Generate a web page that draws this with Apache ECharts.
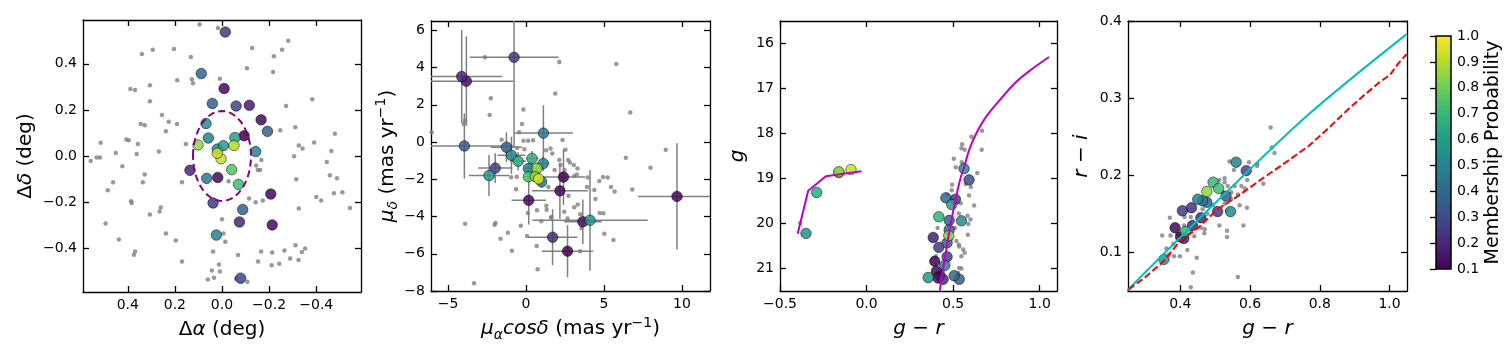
<!DOCTYPE html>
<html>
<head>
<meta charset="utf-8">
<script src="https://cdn.jsdelivr.net/npm/echarts@6/dist/echarts.min.js"></script>
<style>
  html, body { margin: 0; padding: 0; background: #fff; }
  #main { width: 1512px; height: 360px; }
</style>
</head>
<body>
<div id="main"></div>
<script>
// ---- 面板1: 天区位置 (Δα, Δδ) ----
var skyField = [
  [0.095,0.570],[0.017,0.555],[0.340,0.442],[0.294,0.461],[0.204,0.464],[0.132,0.429],[-0.128,0.468],[-0.255,0.461],
  [-0.281,0.500],[-0.220,0.433],[-0.106,0.381],[-0.217,0.364],[0.190,0.329],[0.128,0.333],[0.123,0.316],[0.306,0.307],
  [0.009,0.335],[0.389,0.291],[0.369,0.286],[0.306,0.238],[-0.383,0.246],[-0.272,0.217],[0.255,0.178],[0.226,0.149],
  [0.191,0.139],[0.345,0.139],[0.328,0.133],[0.238,0.107],[-0.247,0.112],[-0.311,0.125],[-0.479,0.096],[0.406,0.072],
  [0.396,0.068],[0.357,0.052],[0.515,0.057],[0.153,0.052],[-0.104,0.096],[-0.391,0.059],[-0.326,0.046],[-0.342,0.033],
  [-0.464,0.022],[0.268,0.020],[0.451,0.013],[0.362,0.009],[-0.306,-0.001],[0.557,-0.022],[0.532,-0.006],[0.518,-0.006],
  [-0.445,-0.026],[-0.167,-0.017],[-0.145,-0.041],[-0.162,-0.061],[-0.152,-0.061],[0.423,-0.045],[-0.458,-0.083],
  [-0.488,-0.097],[0.328,-0.080],[-0.315,-0.101],[0.462,-0.114],[0.336,-0.114],[0.170,-0.114],[-0.028,-0.109],
  [0.485,-0.149],[-0.475,-0.162],[-0.511,-0.157],[-0.400,-0.178],[-0.421,-0.193],[-0.115,-0.184],[-0.143,-0.201],
  [-0.173,-0.193],[0.386,-0.196],[0.383,-0.204],[0.260,-0.223],[0.265,-0.241],[-0.326,-0.228],[-0.543,-0.226],
  [0.306,-0.254],[0.000,-0.274],[0.494,-0.293],[-0.006,-0.336],[0.238,-0.336],[0.196,-0.367],[0.438,-0.362],
  [-0.014,-0.372],[0.369,-0.414],[0.374,-0.428],[0.038,-0.414],[-0.068,-0.430],[-0.166,-0.414],[-0.213,-0.419],
  [-0.265,-0.410],[-0.312,-0.387],[-0.353,-0.401],[-0.339,-0.416],[-0.289,-0.445],[-0.325,-0.451],[0.170,-0.458],
  [-0.153,-0.458],[-0.211,-0.474],[-0.243,-0.467],[0.013,-0.471],[0.043,-0.497],[0.009,-0.501],[0.060,-0.536],
  [0.034,-0.528],[-0.060,-0.532],[-0.108,-0.546]
]
// [Δα, Δδ, 成员概率]
var skyMembers = [
  [-0.014,0.538,0.25],[0.088,0.358,0.40],[-0.009,0.293,0.12],[0.041,0.228,0.38],[-0.060,0.217,0.28],
  [-0.116,0.220,0.17],[-0.166,0.157,0.13],[0.068,0.141,0.55],[-0.193,0.107,0.38],[-0.094,0.088,0.10],
  [0.058,0.078,0.50],[-0.055,0.080,0.62],[0.102,0.048,0.85],[-0.006,0.045,0.60],[-0.051,0.046,0.90],
  [0.020,0.030,0.55],[-0.143,0.019,0.50],[0.020,0.012,0.93],[0.004,-0.012,0.92],[0.136,-0.062,0.20],
  [-0.041,-0.059,0.75],[0.065,-0.097,0.45],[0.018,-0.093,0.12],[-0.070,-0.123,0.72],[-0.207,-0.165,0.12],
  [0.038,-0.204,0.25],[-0.088,-0.232,0.38],[-0.074,-0.286,0.20],[-0.213,-0.299,0.12],[0.024,-0.343,0.50],
  [-0.079,-0.530,0.28]
]
var ellipseCenter = [0.0, 0.0]
var ellipseRadii = [0.123, 0.195]

// ---- 面板2: 自行 ----
var pmField = [
  [-2.64,4.55],[2.13,4.30],[5.79,4.19],[-2.26,2.35],[1.87,2.60],[-2.34,1.45],[-0.17,1.75],[6.68,1.59],[-0.26,0.97],
  [-4.00,0.97],[-3.91,1.15],[-0.45,0.53],[-6.06,0.53],[0.13,0.07],[-0.17,0.07],[0.45,0.09],[2.34,0.11],[-1.57,0.12],
  [-0.57,-0.32],[-0.11,-0.39],[1.28,-0.44],[1.57,-0.35],[2.53,-0.41],[1.68,-0.62],[2.13,-0.97],[2.70,-0.97],
  [2.21,-1.24],[2.81,-1.10],[3.06,-1.24],[3.30,-1.42],[8.96,-0.42],[6.40,-0.85],[7.98,-1.38],[1.83,-1.50],
  [2.47,-1.50],[3.09,-1.82],[3.26,-1.75],[3.96,-1.91],[4.94,-1.88],[5.23,-1.91],[-0.60,-1.86],[-0.96,-1.89],
  [-0.64,-2.53],[1.43,-2.41],[3.91,-2.42],[4.70,-2.09],[4.38,-2.57],[5.45,-2.42],[5.68,-2.65],[6.81,-2.55],
  [2.72,-2.88],[4.45,-3.06],[3.32,-3.36],[3.09,-3.50],[1.30,-3.42],[1.32,-3.63],[0.70,-3.66],[1.60,-4.07],
  [2.45,-3.75],[3.47,-3.88],[0.11,-3.81],[4.72,-3.81],[4.96,-3.82],[-3.91,-4.39],[-2.02,-4.44],[-1.96,-4.35],
  [-1.17,-4.87],[-0.34,-4.50],[-1.64,-5.20],[-0.91,-5.84],[0.68,-5.58],[0.06,-5.04],[5.02,-4.92],[5.60,-5.26],
  [3.47,-5.86],[0.74,-6.83],[-3.34,-7.58],[3.55,-4.62],[1.62,-4.02],[0.98,-4.25],[2.66,-4.11]
]
// [μα cosδ, μδ, xerr, yerr, 成员概率]
var pmMembers = [
  [-0.77,4.55,2.85,4.8,0.25],[-4.13,3.52,2.6,2.5,0.20],[-3.83,3.27,3.0,2.4,0.15],[-3.96,-0.21,3.2,1.75,0.35],
  [1.11,0.48,1.9,1.5,0.45],[-1.26,-0.28,1.0,0.8,0.38],[-0.94,-0.71,0.9,1.0,0.52],[-0.51,-1.03,0.5,0.5,0.65],
  [-1.98,-1.40,1.1,0.8,0.28],[-2.38,-1.80,1.3,1.1,0.58],[0.38,-0.88,0.4,0.4,0.68],[1.10,-1.15,0.4,0.4,0.50],
  [0.15,-1.42,0.3,0.3,0.50],[0.70,-1.42,0.3,0.3,0.85],[0.15,-1.86,0.3,0.3,0.75],[0.60,-1.86,0.3,0.3,0.85],
  [0.81,-1.98,0.3,0.3,0.95],[1.00,-2.14,0.3,0.3,0.50],[2.40,-1.88,1.4,1.5,0.10],[2.17,-2.62,1.8,1.5,0.12],
  [0.17,-3.13,1.1,1.3,0.12],[9.68,-2.92,2.5,2.85,0.12],[3.64,-4.28,1.2,1.2,0.15],[4.10,-4.20,3.7,2.7,0.58],
  [1.70,-5.11,1.6,1.5,0.22],[2.66,-5.86,1.65,1.4,0.10]
]

// ---- 面板3: 颜色-星等图 ----
var cmdField = [
  [0.667,17.94],[0.606,18.07],[0.552,18.24],[0.548,18.33],[0.567,18.36],[0.665,18.36],[0.504,18.56],[0.550,18.64],
  [0.515,18.75],[0.640,18.88],[0.494,19.14],[0.573,19.12],[0.602,19.19],[0.492,19.26],[0.592,19.38],[0.467,19.36],
  [0.621,19.60],[0.544,19.55],[0.533,19.78],[0.583,19.83],[0.600,19.91],[0.588,20.01],[0.410,20.10],[0.585,20.25],
  [0.519,20.39],[0.533,20.47],[0.558,20.58],[0.567,20.65],[0.535,20.51],[0.548,20.73],[0.535,20.99],[0.548,21.00],
  [0.529,21.10],[0.400,20.73],[0.442,21.06],[-0.383,19.99],[0.510,20.10],[0.490,20.34]
]
// [g-r, g, 成员概率]
var cmdMembers = [
  [-0.350,20.22,0.55],[-0.288,19.31,0.65],[-0.160,18.87,0.78],[-0.160,18.85,0.85],[-0.090,18.80,0.92],
  [0.563,18.78,0.52],[0.592,19.03,0.30],[0.458,19.43,0.40],[0.513,19.46,0.25],[0.492,19.58,0.60],
  [0.417,19.85,0.68],[0.477,19.93,0.38],[0.548,19.94,0.52],[0.477,20.14,0.40],[0.475,20.27,0.85],
  [0.385,20.31,0.18],[0.465,20.43,0.38],[0.417,20.53,0.25],[0.465,20.74,0.28],[0.394,20.84,0.10],
  [0.452,20.93,0.50],[0.404,21.06,0.12],[0.423,21.16,0.10],[0.356,21.20,0.58],[0.413,21.21,0.15],
  [0.442,21.24,0.20],[0.506,21.16,0.40],[0.535,21.24,0.35]
]
var isochroneRGB = [
  [0.423,21.49],[0.462,20.54],[0.500,19.73],[0.538,19.06],[0.567,18.70],[0.596,18.33],[0.635,17.99],
  [0.692,17.62],[0.769,17.26],[0.865,16.85],[0.962,16.55],[1.054,16.30]
]
var isochroneHB = [[-0.398,20.23],[-0.337,19.27],[-0.235,18.95],[-0.029,18.84]]

// ---- 面板4: 颜色-颜色图 ----
var ccField = [
  [0.659,0.262],[0.662,0.236],[0.670,0.229],[0.541,0.218],[0.597,0.217],[0.621,0.215],[0.620,0.212],[0.554,0.207],
  [0.592,0.194],[0.638,0.189],[0.527,0.196],[0.527,0.191],[0.512,0.194],[0.536,0.186],[0.556,0.186],[0.575,0.186],
  [0.585,0.183],[0.546,0.178],[0.524,0.177],[0.565,0.175],[0.546,0.169],[0.527,0.163],[0.570,0.161],[0.591,0.158],
  [0.534,0.154],[0.478,0.150],[0.464,0.156],[0.494,0.161],[0.430,0.146],[0.412,0.146],[0.370,0.145],[0.372,0.122],
  [0.391,0.124],[0.411,0.135],[0.459,0.132],[0.470,0.130],[0.469,0.125],[0.440,0.121],[0.360,0.105],[0.380,0.111],
  [0.382,0.095],[0.399,0.095],[0.420,0.103],[0.367,0.097],[0.348,0.122],[0.512,0.135],[0.534,0.128],[0.534,0.120],
  [0.581,0.135],[0.447,0.093],[0.436,0.074],[0.430,0.055],[0.565,0.068]
]
// [g-r, r-i, 成员概率]
var ccMembers = [
  [0.353,0.091,0.58],[0.385,0.132,0.12],[0.401,0.120,0.10],[0.410,0.118,0.18],[0.415,0.127,0.70],
  [0.435,0.135,0.20],[0.406,0.154,0.25],[0.432,0.158,0.23],[0.459,0.145,0.20],[0.450,0.169,0.50],
  [0.464,0.167,0.45],[0.476,0.165,0.40],[0.476,0.179,0.85],[0.494,0.191,0.70],[0.510,0.183,0.72],
  [0.531,0.173,0.35],[0.507,0.153,0.25],[0.544,0.153,0.52],[0.560,0.217,0.50],[0.589,0.206,0.30]
]
var ccLocus = [[0.246,0.050],[0.500,0.164],[0.768,0.279],[1.049,0.383]]
var ccModel = [
  [0.252,0.052],[0.300,0.068],[0.353,0.089],[0.401,0.116],[0.449,0.131],[0.507,0.156],[0.565,0.173],
  [0.633,0.195],[0.700,0.216],[0.768,0.238],[0.827,0.262],[0.880,0.285],[0.930,0.305],[0.972,0.321],
  [1.001,0.330],[1.025,0.345],[1.049,0.357]
]

// 刻度
var skyTicks = [-0.4, -0.2, 0, 0.2, 0.4]
var pmXTicks = [-5, 0, 5, 10]
var pmYTicks = [-8, -6, -4, -2, 0, 2, 4, 6]
var cmdXTicks = [-0.5, 0, 0.5, 1.0]
var cmdYTicks = [16, 17, 18, 19, 20, 21]
var ccXTicks = [0.4, 0.6, 0.8, 1.0]
var ccYTicks = [0.1, 0.2, 0.3, 0.4]
var cbTicks = [0.1, 0.2, 0.3, 0.4, 0.5, 0.6, 0.7, 0.8, 0.9, 1.0]

var viridis = ['#440154','#482475','#414487','#355f8d','#2a788e','#21918c','#22a884','#44bf70','#7ad151','#bddf26','#fde725']

var font = 'DejaVu Sans'
var nameStyle = {
  fontFamily: font, fontSize: 20, color: '#000', lineHeight: 26,
  rich: {
    it: { fontFamily: font, fontSize: 20, fontStyle: 'italic', color: '#000', lineHeight: 26 },
    sub: { fontFamily: font, fontSize: 14, fontStyle: 'italic', color: '#000', verticalAlign: 'bottom', lineHeight: 13 },
    sup: { fontFamily: font, fontSize: 14, color: '#000', verticalAlign: 'top', lineHeight: 13 }
  }
}

function fmt (d) {
  return function (v) { return v.toFixed(d).replace('-', '\u2212') }
}

function axis (grid, pos, min, max, ticks, digits, inverse, name, gap) {
  var main = pos === 'bottom' || pos === 'left'
  var a = {
    gridIndex: grid, type: 'value', position: pos, min: min, max: max, inverse: !!inverse,
    splitLine: { show: false },
    axisLine: { show: true, onZero: false, lineStyle: { color: '#000', width: 1.3 } },
    axisTick: { show: true, inside: true, length: 6, customValues: ticks, lineStyle: { color: '#000', width: 1.3 } },
    axisLabel: { show: main, customValues: ticks, formatter: fmt(digits), color: '#000', fontSize: 14, fontFamily: font, margin: 6 }
  }
  if (main && name) {
    a.name = name
    a.nameLocation = 'middle'
    a.nameGap = gap
    a.nameTextStyle = nameStyle
    if (pos === 'left') a.nameRotate = 90
  }
  return a
}

var xAxes = [
  axis(0, 'bottom', -0.59, 0.59, skyTicks, 1, true, '\u0394{it|\u03b1} (deg)', 22),
  axis(0, 'top', -0.59, 0.59, skyTicks, 1, true),
  axis(1, 'bottom', -6.1, 11.8, pmXTicks, 0, false, '{it|\u03bc}{sub|\u03b1}{it|cos\u03b4} (mas yr{sup|\u22121})', 22),
  axis(1, 'top', -6.1, 11.8, pmXTicks, 0, false),
  axis(2, 'bottom', -0.5, 1.1, cmdXTicks, 1, false, '{it|g} \u2212 {it|r}', 22),
  axis(2, 'top', -0.5, 1.1, cmdXTicks, 1, false),
  axis(3, 'bottom', 0.25, 1.05, ccXTicks, 1, false, '{it|g} \u2212 {it|r}', 22),
  axis(3, 'top', 0.25, 1.05, ccXTicks, 1, false),
  { gridIndex: 4, type: 'value', min: 0, max: 1, show: false }
]
var yAxes = [
  axis(0, 'left', -0.59, 0.59, skyTicks, 1, false, '\u0394{it|\u03b4} (deg)', 42),
  axis(0, 'right', -0.59, 0.59, skyTicks, 1, false),
  axis(1, 'left', -8, 6.5, pmYTicks, 0, false, '{it|\u03bc}{sub|\u03b4} (mas yr{sup|\u22121})', 30),
  axis(1, 'right', -8, 6.5, pmYTicks, 0, false),
  axis(2, 'left', 15.5, 21.5, cmdYTicks, 0, true, '{it|g}', 29),
  axis(2, 'right', 15.5, 21.5, cmdYTicks, 0, true),
  axis(3, 'left', 0.05, 0.4, ccYTicks, 1, false, '{it|r} \u2212 {it|i}', 33),
  axis(3, 'right', 0.05, 0.4, ccYTicks, 1, false),
  {
    gridIndex: 4, type: 'value', position: 'right', min: 0.1, max: 1.0,
    splitLine: { show: false },
    axisLine: { show: false },
    axisTick: { show: true, inside: true, length: 6, customValues: cbTicks, lineStyle: { color: '#000', width: 1.3 } },
    axisLabel: { customValues: cbTicks, formatter: fmt(1), color: '#000', fontSize: 14, fontFamily: font, margin: 6 },
    name: 'Membership Probability', nameLocation: 'middle', nameRotate: 90, nameGap: 27,
    nameTextStyle: { fontFamily: font, fontSize: 19, color: '#000' }
  }
]

function byProb (arr, pi) {
  return arr.slice().sort(function (a, b) { return a[pi] - b[pi] })
}

var fieldStyle = { color: '#808080' }
var memberStyle = { borderColor: '#000', borderWidth: 0.6, opacity: 0.85 }

function fieldSeries (ax, data) {
  return { type: 'scatter', xAxisIndex: ax, yAxisIndex: ax, data: data, symbolSize: 4.5, itemStyle: fieldStyle, z: 2, silent: true }
}
function memberSeries (ax, data) {
  return { type: 'scatter', xAxisIndex: ax, yAxisIndex: ax, data: data, symbolSize: 10.5, itemStyle: memberStyle, z: 4, silent: true }
}
function lineSeries (ax, data, color, dash, smooth) {
  return {
    type: 'line', xAxisIndex: ax, yAxisIndex: ax, data: data, symbol: 'none', z: 5, silent: true,
    smooth: smooth || false,
    lineStyle: { color: color, width: 2, type: dash || 'solid' }
  }
}

var pmScatter = byProb(pmMembers, 4).map(function (d) { return [d[0], d[1], d[4]] })

var series = [
  fieldSeries(0, skyField),
  memberSeries(0, byProb(skyMembers, 2)),
  {
    type: 'custom', xAxisIndex: 0, yAxisIndex: 0, data: [ellipseCenter], z: 6, silent: true,
    renderItem: function (params, api) {
      var pts = []
      for (var k = 0; k <= 96; k++) {
        var t = k / 96 * 2 * Math.PI
        pts.push(api.coord([ellipseCenter[0] + ellipseRadii[0] * Math.cos(t), ellipseCenter[1] + ellipseRadii[1] * Math.sin(t)]))
      }
      return { type: 'polyline', shape: { points: pts }, style: { stroke: '#800080', lineWidth: 2, fill: null, lineDash: [7, 4] } }
    }
  },
  fieldSeries(2, pmField),
  {
    type: 'custom', xAxisIndex: 2, yAxisIndex: 2, data: pmMembers, z: 3, silent: true, clip: true,
    encode: { x: 0, y: 1 },
    renderItem: function (params, api) {
      var x = api.value(0), y = api.value(1), ex = api.value(2), ey = api.value(3)
      var a = api.coord([x - ex, y]), b = api.coord([x + ex, y])
      var c = api.coord([x, y - ey]), d = api.coord([x, y + ey])
      var st = { stroke: '#808080', lineWidth: 1.5 }
      return {
        type: 'group',
        children: [
          { type: 'line', shape: { x1: a[0], y1: a[1], x2: b[0], y2: b[1] }, style: st },
          { type: 'line', shape: { x1: c[0], y1: c[1], x2: d[0], y2: d[1] }, style: st }
        ]
      }
    }
  },
  memberSeries(2, pmScatter),
  fieldSeries(4, cmdField),
  memberSeries(4, byProb(cmdMembers, 2)),
  lineSeries(4, isochroneRGB, '#c000c8', null, 0.4),
  lineSeries(4, isochroneHB, '#c000c8'),
  fieldSeries(6, ccField),
  memberSeries(6, byProb(ccMembers, 2)),
  lineSeries(6, ccLocus, '#00bfbf', null, 0.3),
  lineSeries(6, ccModel, '#ff0000', [7, 3]),
  {
    type: 'custom', xAxisIndex: 8, yAxisIndex: 8, data: [[0, 0.1]], silent: true,
    renderItem: function (params, api) {
      var p0 = api.coord([0, 1.0]), p1 = api.coord([1, 0.1])
      var stops = viridis.map(function (c, i) { return { offset: i / (viridis.length - 1), color: c } })
      return {
        type: 'rect',
        shape: { x: p0[0], y: p0[1], width: p1[0] - p0[0], height: p1[1] - p0[1] },
        style: { fill: new echarts.graphic.LinearGradient(0, 1, 0, 0, stops), stroke: '#000', lineWidth: 1.5 }
      }
    }
  }
]

var chart = echarts.init(document.getElementById('main'))
chart.setOption({
  animation: false,
  backgroundColor: '#fff',
  grid: [
    { left: 83, top: 20, width: 278, height: 272 },
    { left: 431, top: 21, width: 279, height: 270 },
    { left: 780, top: 21, width: 277, height: 270 },
    { left: 1128, top: 21, width: 279, height: 270 },
    { left: 1436, top: 36, width: 15, height: 233 }
  ],
  xAxis: xAxes,
  yAxis: yAxes,
  visualMap: {
    show: false, type: 'continuous', min: 0.1, max: 1.0, dimension: 2,
    seriesIndex: [1, 5, 7, 11],
    inRange: { color: viridis }
  },
  series: series
})
</script>
</body>
</html>
